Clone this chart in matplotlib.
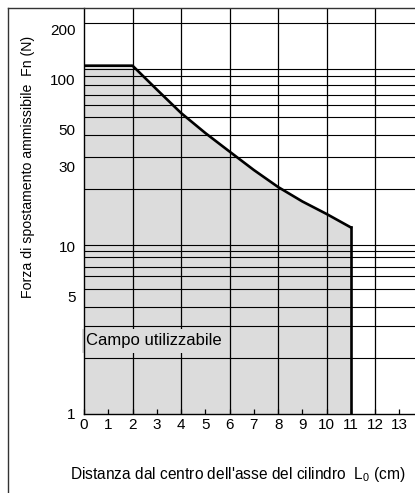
import matplotlib
matplotlib.use("Agg")
import matplotlib.pyplot as plt
from matplotlib.lines import Line2D

plt.rcParams['font.family'] = ['Liberation Sans', 'DejaVu Sans']

# ---- data ----
x_curve = [0, 2, 3, 4, 5, 6, 7, 8, 9, 10, 11]
f_curve = [121, 121, 87.1, 63.0, 47.8, 37.0, 28.7, 22.7, 18.6, 15.65, 13.0]
x_ticks = list(range(0, 14))
y_ticks = [1, 5, 10, 30, 50, 100, 200]
y_tick_labels = ['1', '5', '10', '30', '50', '100', '200']
h_grid = [219, 115.6, 105.4, 92.7, 80.8, 70.4, 59.4, 46.5, 34.5, 22.0,
          10.2, 9.44, 8.69, 7.57, 6.62, 5.53, 4.37, 3.36, 2.14]
v_grid = [2, 4, 6, 8, 10, 12]
region_label = 'Campo utilizzabile'
xlabel = "Distanza dal centro dell'asse del cilindro  L$_\\mathregular{0}$ (cm)"
ylabel = 'Forza di spostamento ammissibile  Fn (N)'

W, H = 415, 493
fig = plt.figure(figsize=(W / 100, H / 100), dpi=100)
ax = fig.add_axes([84 / W, 79.5 / H, 1 - 84 / W, 405.5 / H])
ax.set_yscale('log')
ax.set_xlim(0, 13.64)
ax.set_ylim(1, 268)

fill_c = '#dcdcdc'
ax.fill_between(x_curve, 1, f_curve, color=fill_c, lw=0, zorder=1)
for v in v_grid:
    ax.axvline(v, color='black', lw=0.9, zorder=1.5)
ax.text(0.1, 2.72, region_label, fontsize=12, ha='left', va='center', zorder=2,
        bbox=dict(boxstyle='square,pad=0.28', fc=fill_c, ec='none'))
for h in h_grid:
    ax.axhline(h, color='black', lw=0.8, zorder=2.5)
ax.plot(x_curve, f_curve, color='black', lw=1.9, zorder=3, solid_joinstyle='round')
ax.plot([x_curve[-1], x_curve[-1]], [f_curve[-1], 1], color='black', lw=1.9, zorder=3)

ax.set_xticks(x_ticks)
ax.set_xticklabels([str(t) for t in x_ticks])
ax.set_yticks(y_ticks)
ax.set_yticklabels(y_tick_labels)
ax.minorticks_off()
ax.tick_params(axis='x', direction='in', length=3.6, width=0.9, pad=3, labelsize=11)
ax.tick_params(axis='y', length=0, pad=6, labelsize=11)
for s in ['top', 'right']:
    ax.spines[s].set_visible(False)
for s in ['left', 'bottom']:
    ax.spines[s].set_linewidth(1.0)
    ax.spines[s].set_zorder(4)

# outer frame
fig.add_artist(Line2D([7.5 / W, 7.5 / W], [0, 1 - 8 / H], color='#333333', lw=1.0))
fig.add_artist(Line2D([7.5 / W, 1], [1 - 8 / H, 1 - 8 / H], color='#333333', lw=1.0))

fig.text(238 / W, 1 - 475 / H, xlabel, ha='center', va='center', fontsize=11.2)
fig.text(28 / W, 1 - 167 / H, ylabel, ha='center', va='center', rotation=90, fontsize=10.2)

fig.savefig('out.png', dpi=100)
